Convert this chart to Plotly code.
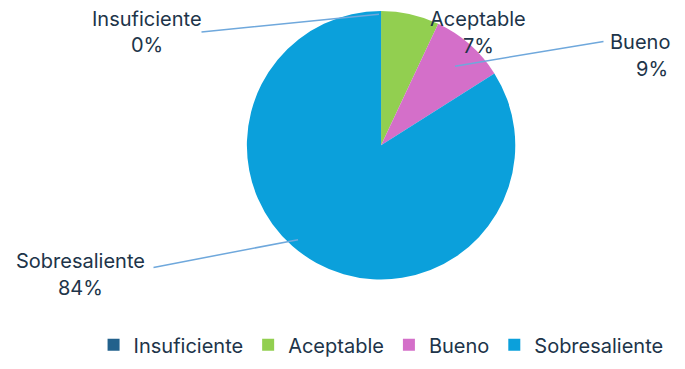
import plotly.graph_objects as go

categories = ["Insuficiente", "Aceptable", "Bueno", "Sobresaliente"]
values = [0, 7, 9, 84]
colors = ["#22618C", "#92CF50", "#D46FC9", "#0BA0DB"]

W, H = 685, 369
ML, MR, MT, MB = 10, 10, 5, 30
PW, PH = W - ML - MR, H - MT - MB


def px(x, y):
    return (x - ML) / PW, 1 - (y - MT) / PH


# label line centres (pixels): name line, percent line
label_px = [((147, 20), (147, 49)), ((478, 20), (478, 50)),
            ((640, 46), (652, 75)), ((80, 285), (80, 315))]
# leader lines (pixels): tail near label, tip on pie
leader_px = [((200, 33), (379, 15)), None,
             ((605, 47), (455, 72)), ((152, 290), (298, 262))]

TXT = "#203449"
FS = 20
fig = go.Figure(go.Pie(
    labels=categories,
    values=values,
    sort=False,
    direction="clockwise",
    rotation=0,
    marker=dict(colors=colors, line=dict(color="#FFFFFF", width=0)),
    textinfo="none",
    hoverinfo="label+percent",
    showlegend=True,
    domain=dict(x=[0.33, 0.786], y=[0.1, 0.98]),
))

total = sum(values)
annotations = []
for cat, val, (p1, p2), lead in zip(categories, values, label_px, leader_px):
    for txt, p in ((cat, p1), (f"{round(100 * val / total)}%", p2)):
        x, y = px(*p)
        annotations.append(dict(
            x=x, y=y, xref="paper", yref="paper", text=txt, showarrow=False,
            xanchor="center", yanchor="middle",
            font=dict(size=FS, color=TXT, family="Inter"),
        ))
    if lead is not None:
        (tx, ty), (hx, hy) = lead
        x, y = px(hx, hy)
        annotations.append(dict(
            x=x, y=y, xref="paper", yref="paper",
            ax=tx - hx, ay=ty - hy,
            text="", showarrow=True, arrowhead=0, arrowwidth=1.5,
            arrowcolor="#6FA8DC", standoff=0, startstandoff=0,
        ))

fig.update_layout(
    width=W, height=H,
    margin=dict(l=ML, r=MR, t=MT, b=MB),
    paper_bgcolor="white",
    font=dict(family="Inter", size=FS, color=TXT),
    annotations=annotations,
    legend=dict(orientation="h", x=0.558, xanchor="center", y=-0.05, yanchor="top",
                font=dict(size=FS, color=TXT), traceorder="normal"),
)

fig.write_html("out.html")
